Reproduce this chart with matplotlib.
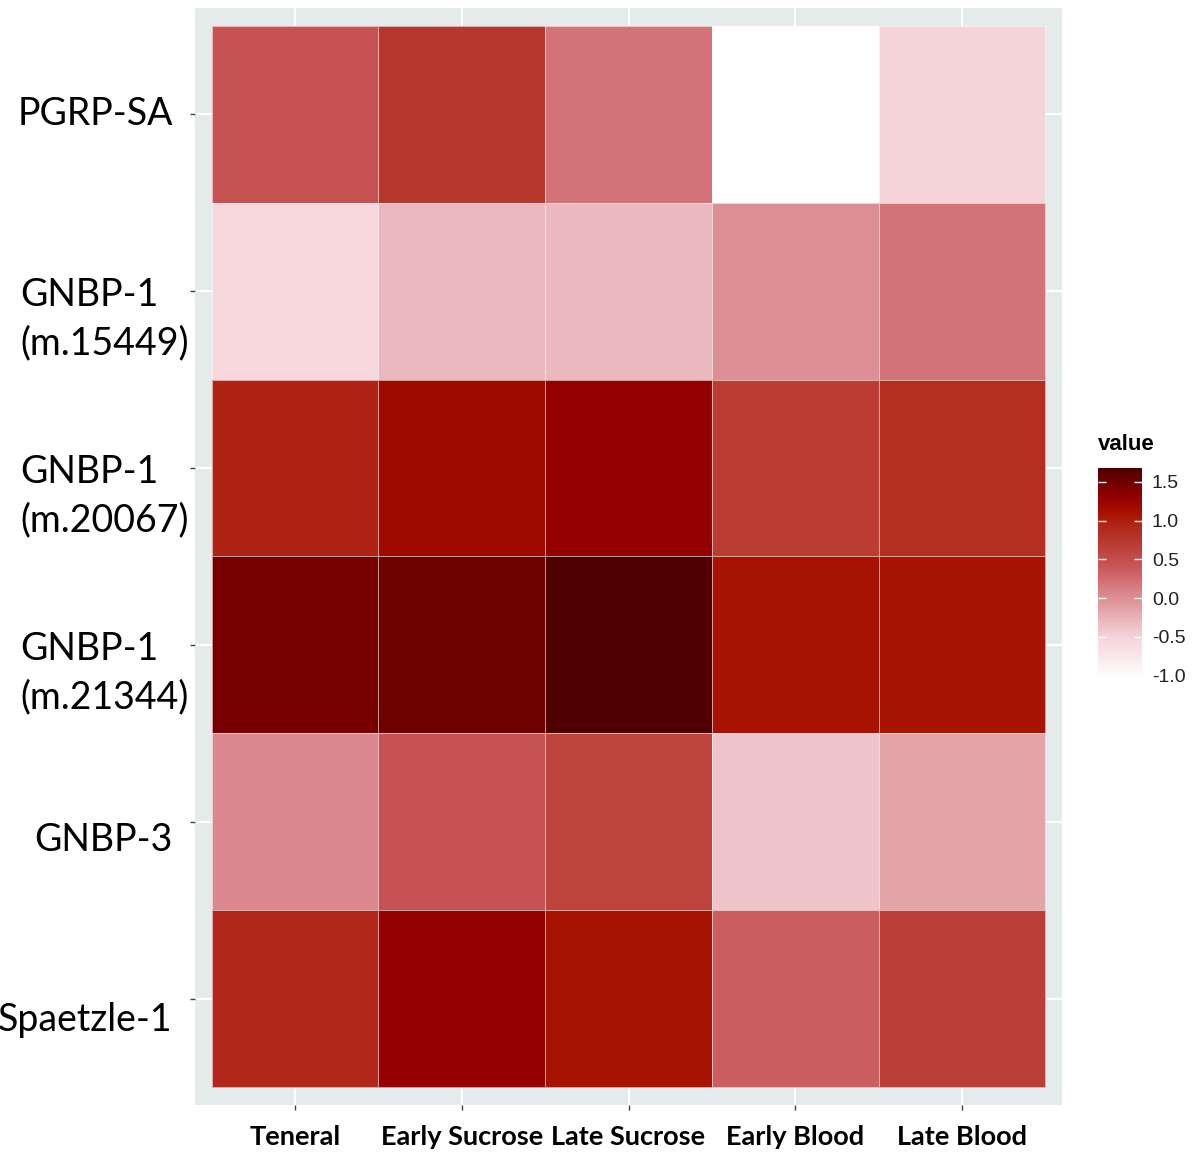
import numpy as np
import matplotlib
matplotlib.use('Agg')
import matplotlib.pyplot as plt
from matplotlib.colors import LinearSegmentedColormap
from matplotlib.transforms import ScaledTranslation

genes = ['PGRP-SA', 'GNBP-1\n(m.15449)', 'GNBP-1\n(m.20067)',
         'GNBP-1\n(m.21344)', 'GNBP-3', 'Spaetzle-1']
stages = ['Teneral', 'Early Sucrose', 'Late Sucrose', 'Early Blood', 'Late Blood']

pgrp_sa = [0.45, 0.75, 0.2, -1.04, -0.5]
gnbp1_15449 = [-0.55, -0.3, -0.3, 0.0, 0.2]
gnbp1_20067 = [0.95, 1.2, 1.28, 0.7, 0.85]
gnbp1_21344 = [1.45, 1.5, 1.68, 1.1, 1.08]
gnbp3 = [0.05, 0.45, 0.6, -0.4, -0.15]
spaetzle1 = [0.92, 1.28, 1.1, 0.35, 0.65]

values = np.array([pgrp_sa, gnbp1_15449, gnbp1_20067,
                   gnbp1_21344, gnbp3, spaetzle1])

vmin, vmax = -1.04, 1.68
anchors = [(-1.04, '#FFFFFF'), (-0.5, '#F4D3D9'), (0.0, '#DC8F94'),
           (0.4, '#C9575A'), (0.65, '#BC4038'), (0.9, '#B22A1C'),
           (1.1, '#A81200'), (1.3, '#940000'), (1.5, '#700000'),
           (1.68, '#4F0000')]
cmap = LinearSegmentedColormap.from_list(
    'reds', [((v - vmin) / (vmax - vmin), c) for v, c in anchors])

fig = plt.figure(figsize=(12, 11.71), dpi=100)
ax = fig.add_axes([0.1625, 0.0564, 0.7225, 0.9368])
ax.set_facecolor('#E5EAEA')

x_edges = np.arange(len(stages) + 1) - 0.5
y_edges = np.arange(len(genes) + 1) - 0.5
mesh = ax.pcolormesh(x_edges, y_edges, values, cmap=cmap, vmin=vmin, vmax=vmax,
                     edgecolor=(1, 1, 1, 0.6), linewidth=0.6, zorder=2)

ax.set_xlim(-0.6, len(stages) - 0.4)
ax.set_ylim(len(genes) - 0.4, -0.6)
ax.set_xticks(range(len(stages)))
ax.set_yticks(range(len(genes)))
ax.set_xticklabels(stages, fontsize=19.5, fontweight='bold', family='Lato')
ax.set_yticklabels(genes, fontsize=27, family='Lato', linespacing=1.42)
ax.grid(True, color='white', linewidth=1.6, zorder=0)
ax.set_axisbelow(True)
for s in ax.spines.values():
    s.set_visible(False)
ax.tick_params(axis='both', length=3.5, width=1, color='#444444')
ax.tick_params(axis='x', pad=11)
ax.tick_params(axis='y', pad=1)

# label nudges (pixels): single-line labels sit further left, lower rows lower
nudge_x = [-16, 0, 0, 0, -16, -16]
nudge_y = [-2, -6, -6, -6, -20, -23]
for lbl, dx, dy in zip(ax.get_yticklabels(), nudge_x, nudge_y):
    lbl.set_va('top')
    lbl.set_multialignment('left')
    shift = ScaledTranslation(dx / 100, 0.2 + dy / 100, fig.dpi_scale_trans)
    lbl.set_transform(lbl.get_transform() + shift)

cax = fig.add_axes([0.915, 0.4206, 0.0367, 0.1797])
cbar = fig.colorbar(mesh, cax=cax, ticks=[-1.0, -0.5, 0.0, 0.5, 1.0, 1.5])
cbar.outline.set_visible(False)
cbar.ax.set_yticklabels(['-1.0', '-0.5', '0.0', '0.5', '1.0', '1.5'])
cbar.ax.tick_params(direction='in', color='white', length=6, width=1,
                    left=True, right=True, labelsize=14, pad=7,
                    labelcolor='#222222')
for lbl in cbar.ax.get_yticklabels():
    lbl.set_family('Liberation Sans')
fig.text(0.915, 0.6115, 'value', fontsize=16, fontweight='bold',
         family='Liberation Sans', ha='left', va='bottom')

fig.savefig('out.png', dpi=100)
